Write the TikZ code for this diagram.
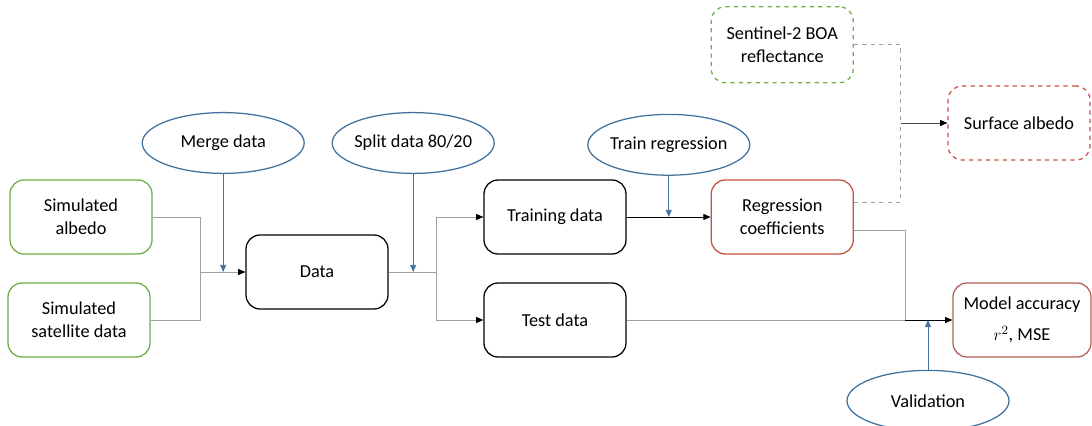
\documentclass[tikz,border=0pt]{standalone}
\usepackage{amsmath}
\usepackage{fontspec}
\setmainfont{Carlito}
\usepackage{tikz}
\usepackage{xcolor}
\usetikzlibrary{arrows.meta,positioning,shapes.geometric}

\definecolor{inputgreen}{RGB}{112,173,71}
\definecolor{stepblue}{RGB}{65,113,156}
\definecolor{outred}{RGB}{200,80,65}
\definecolor{accred}{RGB}{180,95,85}
\definecolor{linegray}{RGB}{160,160,160}

\begin{document}
\begin{tikzpicture}[
    font=\fontsize{13pt}{16.4pt}\selectfont,
    every node/.style={rounded corners=0.35cm, minimum width=3.55cm, minimum height=1.85cm, align=center, line width=0.9pt},
    tip/.style={-{Triangle[length=1.8mm,width=1.5mm,color=black]}},
    input/.style={draw=inputgreen},
    dataset/.style={draw=black},
    result/.style={draw=outred},
    action/.style={ellipse, draw=stepblue, rounded corners=0pt, inner xsep=-1mm, inner ysep=0pt, minimum width=4.05cm, minimum height=1.52cm},
    link/.style={draw=linegray, line width=0.6pt},
    blueline/.style={draw=stepblue, line width=0.65pt, -{Triangle[length=1.8mm,width=1.5mm]}},
    dashlink/.style={draw=linegray, line width=0.6pt, dashed}
]
\useasboundingbox (0,0) rectangle (27.3,10.65);

% Input data
\node[input] (simalb) at (2.025,5.225) {Simulated\\albedo};
\node[input] (simsat) at (1.975,2.65) {Simulated\\satellite data};
\node[dataset] (data) at (7.925,3.85) {Data};
\node[dataset] (training) at (13.875,5.225) {Training data};
\node[dataset] (test) at (13.875,2.65) {Test data};
\node[result, right=2.1cm of training] (regcoef) {Regression\\coefficients};
\node[input, dashed, minimum height=1.9cm, above=2.4cm of regcoef] (sentinel) {Sentinel-2 BOA\\reflectance};
\node[draw=outred, dashed] (surface) at (25.475,7.575) {Surface albedo};
\node[draw=accred, minimum width=3.45cm] (accuracy) at (25.55,2.65) {Model accuracy\\[6pt]$r^2$, MSE};

% Processing steps
\node[action] (merge) at (5.58,7.075) {Merge data};
\node[action] (split) at (10.33,7.075) {Split data 80/20};
\node[action] (trainreg) at (16.72,7.03) {Train regression};
\node[action] (validation) at (23.2,0.63) {Validation};

% Junctions
\coordinate (mergept) at (5.0,3.85);
\coordinate (splitpt) at (10.9,3.85);
\coordinate (joinpt) at (22.625,2.65);
\coordinate (hub) at (22.52,7.575);

% Merge and split
\draw[link] (simalb) -| (mergept);
\draw[link] (simsat) -| (mergept);
\draw[link, tip] (mergept) -- (data);
\draw[blueline] (merge) -- (merge |- data.west);
\draw[link] (data) -- (splitpt);
\draw[link, tip] (splitpt) |- (training);
\draw[link, tip] (splitpt) |- (test);
\draw[blueline] (split) -- (split |- data.east);

% Regression
\draw[line width=0.7pt, tip] (training) -- (regcoef);
\draw[blueline] (trainreg) -- (trainreg |- training.east);

% Validation
\draw[link] ([yshift=-0.325cm]regcoef.east) -| (joinpt);
\draw[link] (test) -- (joinpt);
\draw[line width=0.6pt, tip] (joinpt) -- (accuracy);
\draw[blueline] (validation) -- (validation |- accuracy.west);

% Application to Sentinel-2
\draw[dashlink] (sentinel) -| (hub);
\draw[dashlink] ([yshift=0.375cm]regcoef.east) -| (hub);
\draw[line width=0.6pt, draw=black!70, tip] (hub) -- (surface);

\end{tikzpicture}
\end{document}
